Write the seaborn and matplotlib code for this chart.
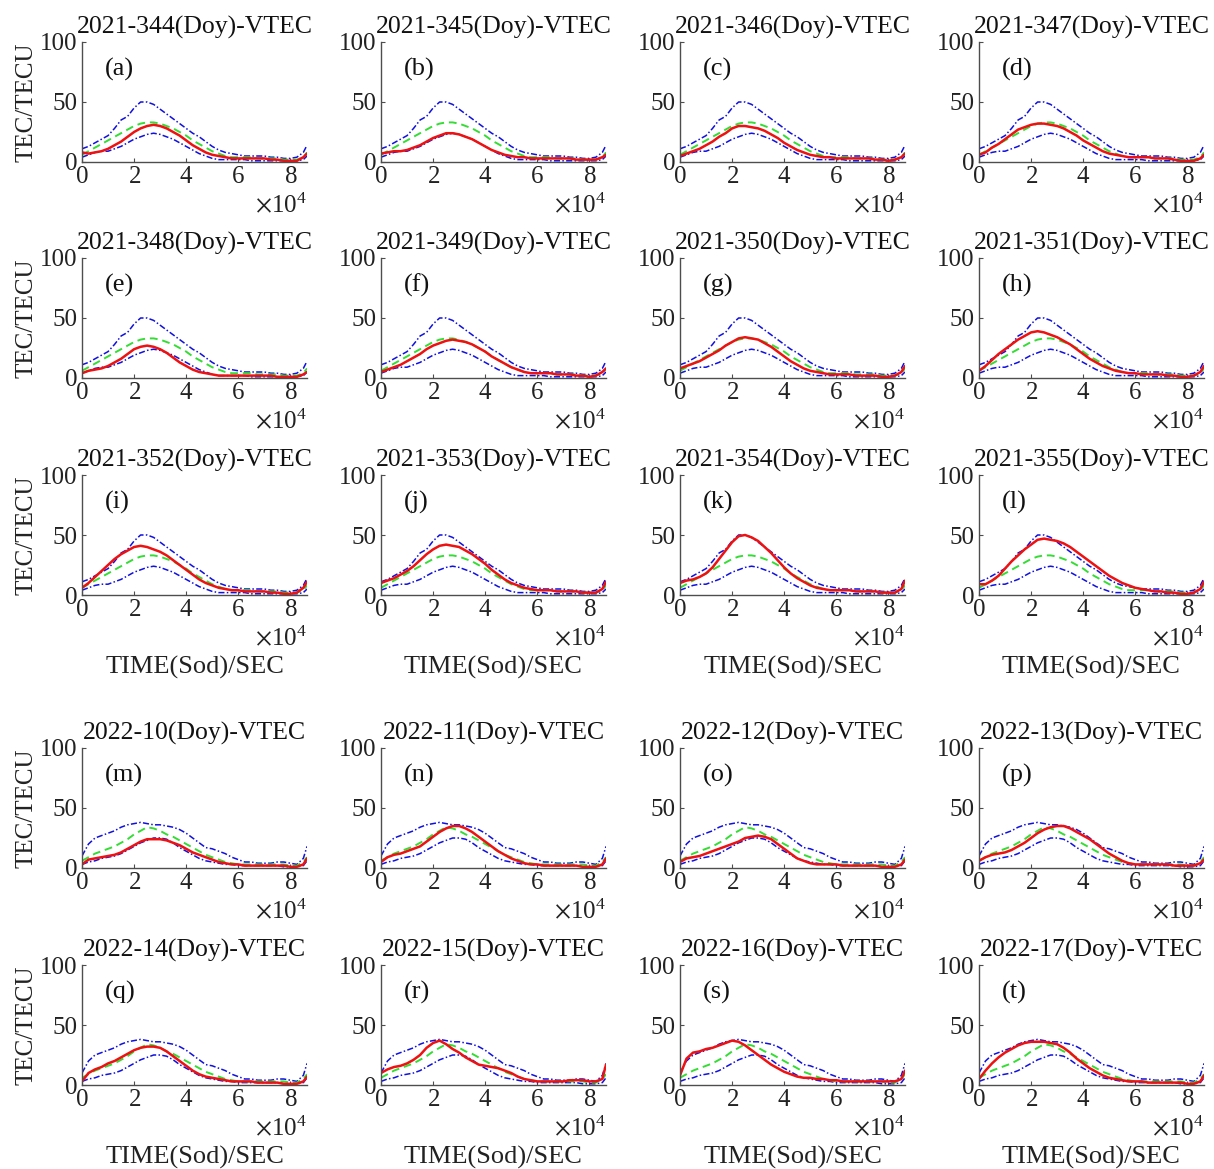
import numpy as np
import pandas as pd
import matplotlib
matplotlib.use("Agg")
import matplotlib.pyplot as plt
import seaborn as sns
from matplotlib.ticker import ScalarFormatter

sns.set_theme(style="white")
plt.rcParams['font.family'] = ['Liberation Serif', 'DejaVu Serif']
plt.rcParams['mathtext.fontset'] = 'stix'

# ---------------- data ----------------
time_sec = [0, 2500, 5000, 7500, 10000, 12500, 15000, 17500, 20000, 22500,
            25000, 27500, 30000, 32500, 35000, 37500, 40000, 42500, 45000, 47500,
            50000, 52500, 55000, 57500, 60000, 62500, 65000, 67500, 70000, 72500,
            75000, 77500, 80000, 82500, 85000, 86400]

# reference bounds for 2021 (a-l)
upper_2021 = [11, 13, 16, 19, 22, 28, 35, 38, 45, 50, 50, 48, 44, 40, 36, 32, 28, 24, 21, 17,
              13, 10, 8, 7, 6, 5, 5, 5, 5, 4, 4, 3, 3, 4, 8, 14]
median_2021 = [6, 9, 12, 15, 18, 21, 24, 27, 30, 32, 33, 33, 32, 30, 28, 25, 22, 18, 15, 12,
               9, 7, 5, 4, 4, 4, 4, 3, 3, 3, 3, 2, 2, 2, 4, 8]
lower_2021 = [4, 6, 8, 9, 9, 11, 13, 16, 19, 21, 23, 24, 23, 21, 19, 16, 13, 10, 7, 5,
              3, 2, 2, 2, 2, 2, 1, 1, 1, 1, 1, 1, 1, 1, 2, 5]

# reference bounds for 2022 (m-t)
upper_2022 = [10, 20, 25, 27, 29, 31, 34, 36, 37, 38, 37, 36, 36, 35, 34, 32, 29, 25, 21, 17,
              16, 14, 12, 9, 7, 5, 5, 4, 4, 4, 5, 5, 4, 3, 8, 18]
median_2022 = [6, 9, 12, 14, 16, 18, 21, 24, 28, 31, 34, 33, 31, 28, 26, 23, 20, 17, 14, 11,
               9, 7, 5, 4, 3, 3, 3, 3, 3, 3, 3, 3, 2, 2, 5, 9]
lower_2022 = [3, 5, 6, 8, 9, 10, 12, 15, 18, 21, 23, 25, 25, 24, 21, 17, 14, 11, 8, 6,
              5, 4, 3, 3, 2, 2, 2, 2, 2, 2, 2, 1, 1, 1, 2, 6]

titles = ["2021-344(Doy)-VTEC", "2021-345(Doy)-VTEC", "2021-346(Doy)-VTEC", "2021-347(Doy)-VTEC",
          "2021-348(Doy)-VTEC", "2021-349(Doy)-VTEC", "2021-350(Doy)-VTEC", "2021-351(Doy)-VTEC",
          "2021-352(Doy)-VTEC", "2021-353(Doy)-VTEC", "2021-354(Doy)-VTEC", "2021-355(Doy)-VTEC",
          "2022-10(Doy)-VTEC", "2022-11(Doy)-VTEC", "2022-12(Doy)-VTEC", "2022-13(Doy)-VTEC",
          "2022-14(Doy)-VTEC", "2022-15(Doy)-VTEC", "2022-16(Doy)-VTEC", "2022-17(Doy)-VTEC"]
panel_labels = ["(a)", "(b)", "(c)", "(d)", "(e)", "(f)", "(g)", "(h)", "(i)", "(j)",
                "(k)", "(l)", "(m)", "(n)", "(o)", "(p)", "(q)", "(r)", "(s)", "(t)"]

vtec_a = [8, 7, 8, 9, 11, 14, 17, 21, 25, 28, 30, 31, 30, 28, 25, 22, 18, 14, 11, 8,
          6, 5, 4, 3, 3, 3, 3, 3, 3, 2, 2, 1, 1, 1, 4, 7]
vtec_b = [7, 8, 9, 9, 10, 12, 14, 17, 20, 22, 24, 24, 23, 21, 19, 16, 13, 10, 8, 6,
          5, 4, 4, 3, 3, 3, 3, 3, 3, 3, 2, 2, 2, 2, 4, 6]
vtec_c = [5, 7, 9, 11, 14, 17, 21, 24, 28, 30, 30, 29, 28, 26, 23, 20, 16, 13, 10, 8,
          6, 5, 4, 4, 3, 3, 3, 3, 3, 3, 2, 2, 1, 2, 4, 7]
vtec_d = [6, 8, 12, 15, 19, 23, 27, 29, 31, 32, 32, 31, 30, 28, 25, 22, 18, 15, 12, 9,
          7, 6, 5, 4, 4, 4, 4, 3, 3, 3, 2, 1, 1, 1, 3, 6]
vtec_e = [4, 6, 7, 8, 10, 13, 16, 20, 24, 26, 27, 26, 24, 21, 17, 13, 10, 7, 5, 4,
          3, 2, 2, 2, 2, 2, 2, 2, 2, 2, 1, 1, 1, 1, 3, 5]
vtec_f = [5, 7, 9, 11, 14, 17, 20, 24, 27, 29, 31, 32, 31, 30, 28, 25, 22, 18, 15, 12,
          9, 7, 5, 4, 4, 4, 4, 3, 3, 3, 2, 2, 1, 2, 5, 8]
vtec_g = [8, 10, 12, 14, 17, 20, 23, 27, 30, 33, 34, 33, 32, 29, 26, 22, 18, 14, 11, 8,
          6, 5, 4, 3, 3, 3, 3, 2, 2, 2, 2, 1, 1, 2, 5, 10]
vtec_h = [6, 10, 15, 20, 24, 28, 32, 35, 38, 39, 38, 36, 34, 31, 28, 24, 20, 16, 13, 10,
          8, 6, 5, 4, 4, 3, 3, 3, 3, 2, 2, 1, 1, 2, 5, 10]
vtec_i = [6, 10, 15, 20, 25, 30, 34, 37, 40, 41, 40, 38, 36, 33, 29, 25, 21, 17, 13, 10,
          8, 6, 5, 4, 4, 3, 3, 3, 3, 2, 2, 1, 1, 2, 6, 11]
vtec_j = [10, 12, 14, 17, 20, 24, 29, 34, 38, 41, 42, 41, 40, 37, 34, 30, 26, 21, 17, 13,
          10, 8, 6, 5, 4, 4, 4, 3, 3, 3, 3, 2, 2, 2, 5, 11]
vtec_k = [10, 12, 13, 15, 18, 23, 30, 37, 44, 49, 50, 48, 45, 40, 35, 29, 23, 18, 14, 11,
          8, 6, 5, 4, 4, 4, 4, 3, 3, 3, 3, 2, 2, 2, 5, 12]
vtec_l = [9, 9, 12, 16, 22, 28, 33, 38, 42, 46, 47, 46, 45, 43, 40, 36, 32, 28, 24, 20,
          16, 13, 10, 8, 6, 5, 4, 3, 3, 2, 2, 1, 1, 2, 5, 11]
vtec_m = [3, 7, 8, 9, 10, 11, 13, 16, 19, 22, 24, 24, 24, 23, 21, 19, 16, 13, 11, 9,
          7, 5, 4, 3, 3, 2, 2, 2, 2, 2, 2, 2, 1, 1, 3, 8]
vtec_n = [5, 9, 11, 12, 14, 16, 18, 22, 26, 30, 33, 35, 35, 33, 30, 26, 22, 18, 14, 11,
          8, 6, 4, 3, 3, 2, 2, 2, 2, 2, 2, 1, 1, 1, 3, 8]
vtec_o = [5, 8, 9, 10, 12, 14, 16, 18, 20, 22, 25, 26, 27, 26, 24, 20, 16, 12, 8, 6,
          4, 3, 3, 3, 3, 2, 2, 2, 2, 2, 2, 1, 1, 1, 3, 7]
vtec_p = [6, 9, 11, 12, 13, 15, 18, 21, 25, 29, 32, 34, 35, 35, 33, 30, 27, 24, 20, 16,
          12, 9, 6, 4, 3, 3, 3, 3, 3, 3, 2, 2, 2, 2, 4, 7]
vtec_q = [3, 10, 13, 15, 18, 20, 23, 26, 29, 31, 32, 32, 31, 28, 24, 20, 16, 12, 9, 7,
          6, 5, 4, 3, 3, 3, 3, 2, 2, 2, 2, 1, 1, 1, 3, 7]
vtec_r = [10, 13, 15, 16, 18, 21, 25, 31, 35, 37, 34, 30, 27, 23, 20, 17, 16, 15, 14, 12,
          10, 7, 5, 4, 3, 3, 3, 3, 3, 4, 4, 4, 3, 3, 5, 17]
vtec_s = [8, 22, 27, 28, 30, 31, 33, 35, 37, 36, 33, 29, 25, 21, 17, 14, 11, 9, 7, 6,
          6, 5, 5, 4, 4, 3, 3, 3, 3, 3, 3, 3, 3, 3, 5, 12]
vtec_t = [5, 12, 18, 23, 27, 30, 33, 35, 36, 36, 36, 35, 34, 31, 27, 22, 18, 14, 11, 8,
          6, 5, 4, 3, 3, 3, 2, 2, 2, 2, 2, 2, 1, 1, 3, 8]

red_series = [vtec_a, vtec_b, vtec_c, vtec_d, vtec_e, vtec_f, vtec_g, vtec_h, vtec_i, vtec_j,
              vtec_k, vtec_l, vtec_m, vtec_n, vtec_o, vtec_p, vtec_q, vtec_r, vtec_s, vtec_t]

# ---------------- layout ----------------
W, H = 1214, 1169
fig = plt.figure(figsize=(W / 100, H / 100), dpi=100)

col_left = [82, 381, 680, 979]
row_top = [42, 258, 475, 748, 965]
ax_w, ax_h = 225, 120

spine_col = '#4d4d4d'
blue = '#1010e0'
green = '#33dd33'
red = '#ee1111'

for idx in range(20):
    r, c = divmod(idx, 4)
    left = col_left[c] / W
    bottom = 1 - (row_top[r] + ax_h) / H
    ax = fig.add_axes([left, bottom, ax_w / W, ax_h / H])

    if idx < 12:
        up, med, lo = upper_2021, median_2021, lower_2021
    else:
        up, med, lo = upper_2022, median_2022, lower_2022

    df = pd.DataFrame({"t": time_sec, "up": up, "med": med, "lo": lo, "vtec": red_series[idx]})
    sns.lineplot(data=df, x="t", y="up", ax=ax, color=blue, linestyle=(0, (4, 1.5, 1, 1.5)), linewidth=1.1)
    sns.lineplot(data=df, x="t", y="lo", ax=ax, color=blue, linestyle=(0, (4, 1.5, 1, 1.5)), linewidth=1.1)
    sns.lineplot(data=df, x="t", y="med", ax=ax, color=green, linestyle=(0, (4, 2.5)), linewidth=1.4)
    sns.lineplot(data=df, x="t", y="vtec", ax=ax, color=red, linestyle='-', linewidth=1.8)

    ax.set_xlim(0, 86400)
    ax.set_ylim(0, 100)
    ax.set_xticks([0, 20000, 40000, 60000, 80000])
    ax.set_yticks([0, 50, 100])
    fmt = ScalarFormatter(useMathText=True)
    fmt.set_powerlimits((0, 0))
    ax.xaxis.set_major_formatter(fmt)
    ax.xaxis.get_offset_text().set_fontsize(18)
    ax.xaxis.get_offset_text().set_color('#222222')

    for s in ['top', 'right']:
        ax.spines[s].set_visible(False)
    for s in ['left', 'bottom']:
        ax.spines[s].set_color(spine_col)
        ax.spines[s].set_linewidth(1.0)
    ax.tick_params(axis='both', direction='in', length=3, width=0.8, color=spine_col,
                   labelsize=18, labelcolor='#222222', pad=3,
                   left=True, bottom=True)

    ax.set_title(titles[idx], fontsize=18.5, pad=6, color='#111111')
    ax.text(0.10, 0.77, panel_labels[idx], transform=ax.transAxes, fontsize=19,
            ha='left', va='center', color='#111111')

    ax.set_xlabel("TIME(Sod)/SEC" if r in (2, 4) else "", fontsize=19, color='#222222', labelpad=25)
    ax.set_ylabel("TEC/TECU" if c == 0 else "", fontsize=18, color='#222222', labelpad=2)

fig.savefig("out.png", dpi=100)
